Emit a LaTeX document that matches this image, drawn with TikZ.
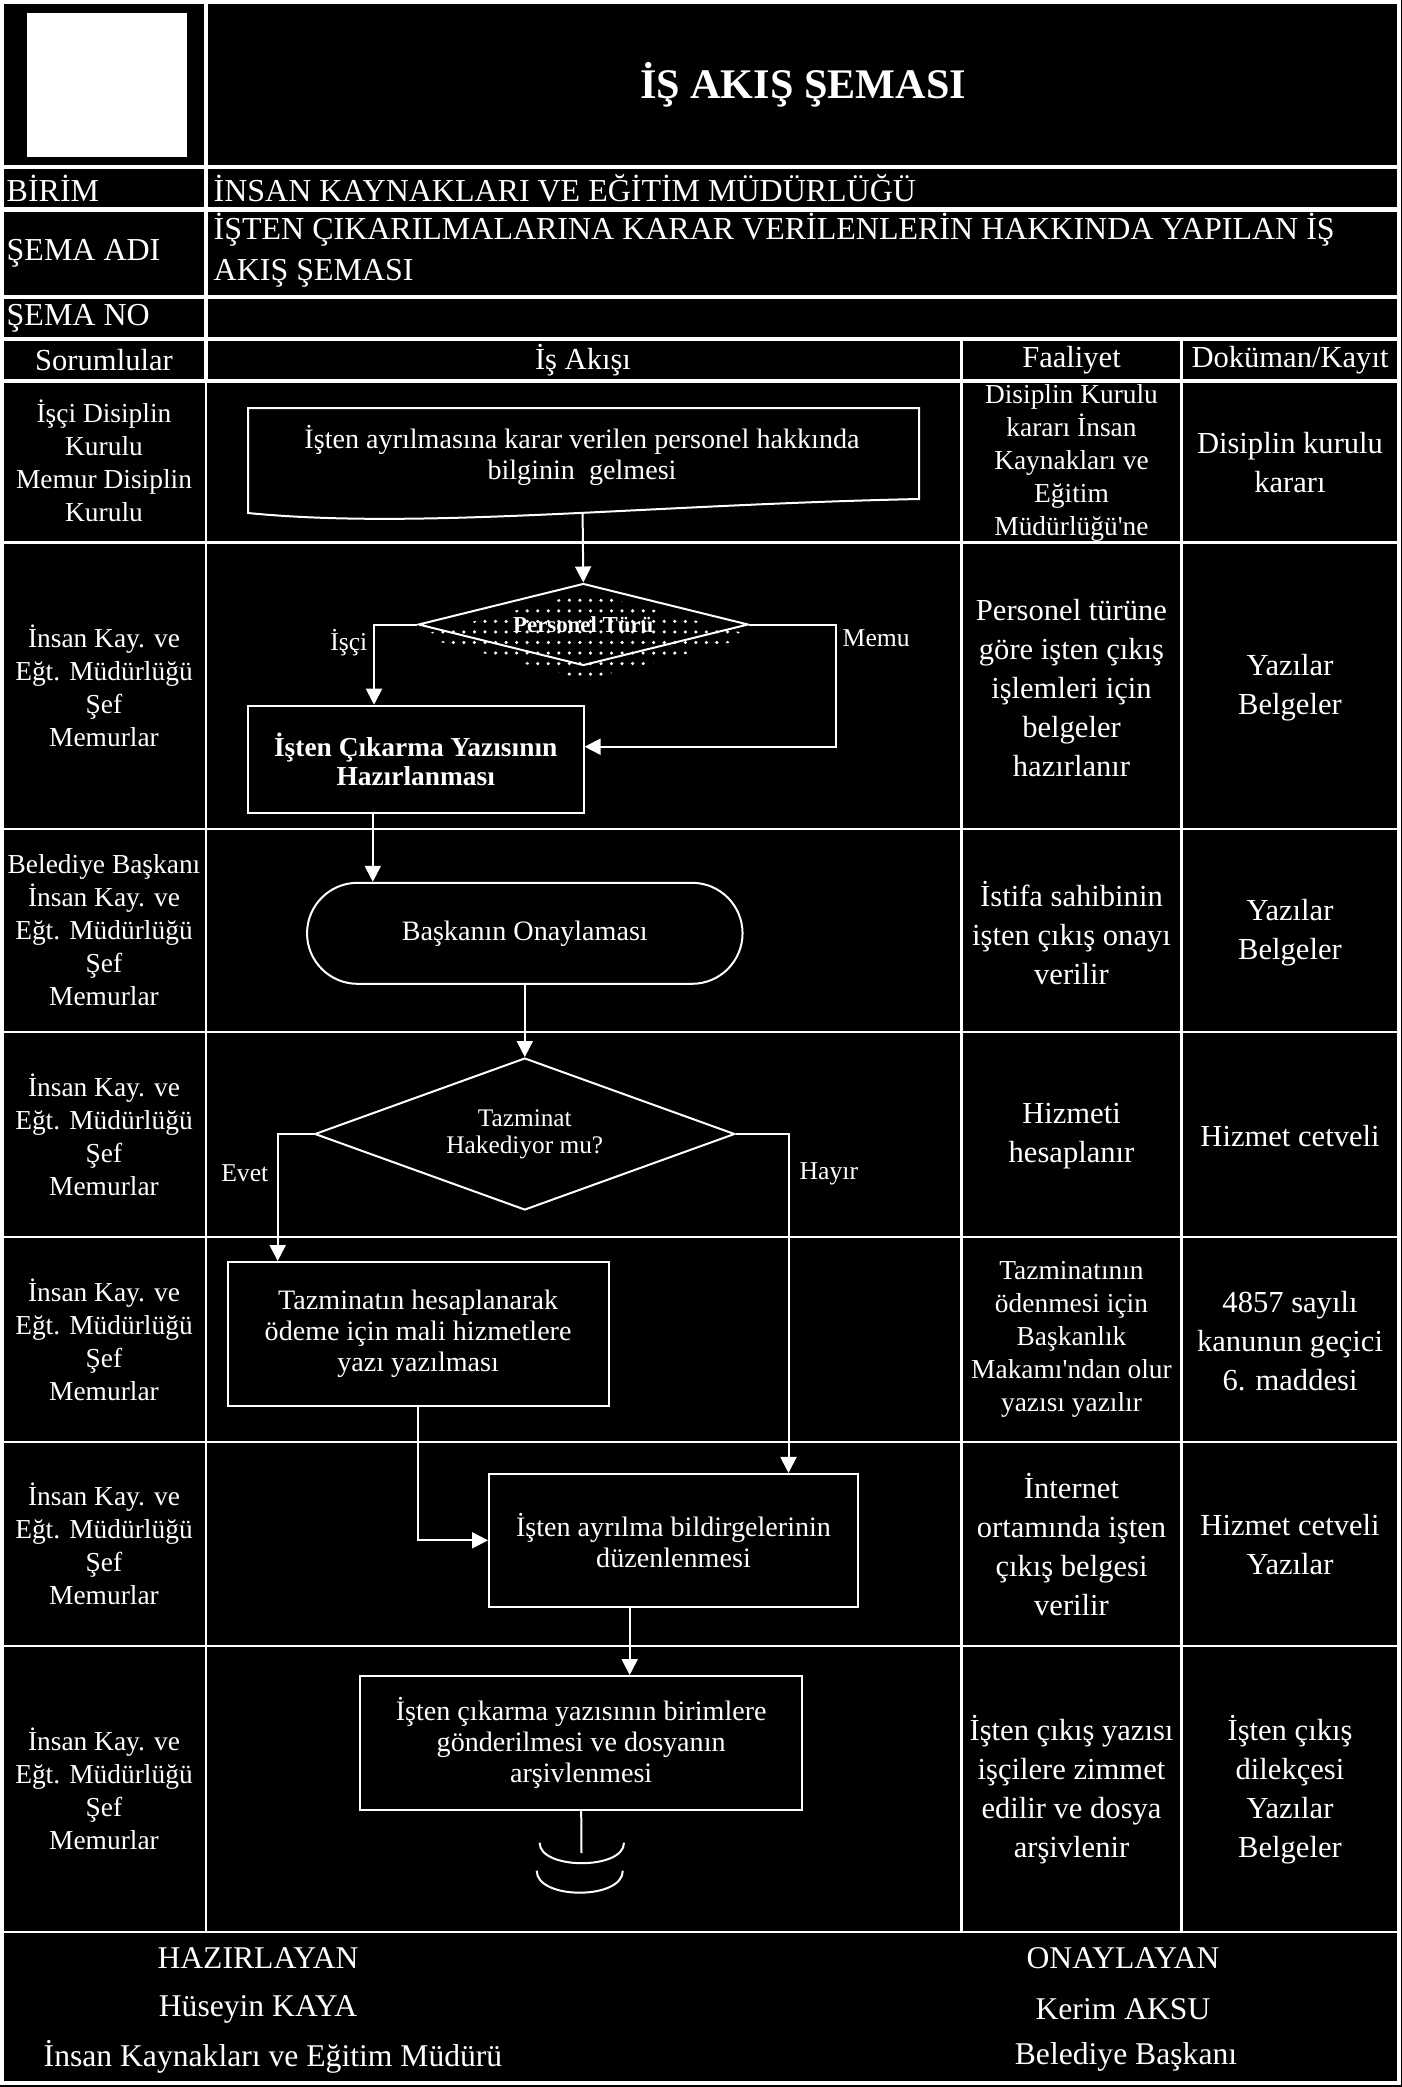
\documentclass[tikz,border=0pt]{standalone}
\usepackage{fontspec}
\setmainfont{Liberation Serif}
\usetikzlibrary{arrows.meta, calc, positioning, shapes.geometric, patterns}

\begin{document}
\begin{tikzpicture}[
	x=0.1mm, y=-0.1mm,
	every node/.style={text=white, inner sep=0pt},
	cell/.style={align=center, font=\fontsize{7.8}{9.4}\selectfont},
	hcell/.style={align=center, font=\fontsize{8.7}{9.4}\selectfont},
	cellw/.style={align=center, font=\fontsize{8.7}{11.1}\selectfont},
	hdr/.style={anchor=west, font=\fontsize{9.1}{11.7}\selectfont},
	alt/.style={font=\fontsize{9}{10}\selectfont},
	rowline/.style={draw=white, line width=0.45mm},
	laneline/.style={draw=white, line width=0.25mm},
	box/.style={draw=white, line width=0.2mm, rectangle, align=center, font=\fontsize{8}{8.8}\selectfont},
	karar/.style={draw=white, line width=0.2mm, diamond, align=center, font=\fontsize{7.2}{7.6}\selectfont},
	yon/.style={font=\fontsize{7.3}{8}\selectfont},
	conn/.style={draw=white, line width=0.2mm},
	arr/.style={conn, -{Triangle[width=1.6mm, length=1.6mm]}},
	]
	
	% zemin
	\fill[black] (0,0) rectangle (1402,2087);
	\useasboundingbox (0,0) rectangle (1402,2087);
	\draw[draw=white, line width=0.35mm] (2,2) rectangle (1399,2083);
	
	% baslik bolumu
	\draw[rowline] (206,2) -- (206,381);
	\foreach \y in {167, 209.5, 297, 339, 381}
		\draw[rowline] (2,\y) -- (1399,\y);
	\node[fill=white, minimum width=16mm, minimum height=14.4mm] (logo) at (107,85) {};
	\node[font=\fontsize{12}{14}\selectfont\bfseries] (baslik) at (803,85) {İŞ AKIŞ ŞEMASI};
	\node[hdr] (birim) at (6,188) {BİRİM};
	\node[hdr] (birimv) at (213,188) {İNSAN KAYNAKLARI VE EĞİTİM MÜDÜRLÜĞÜ};
	\node[hdr] (semaadi) at (6,253) {ŞEMA ADI};
	\node[hdr, align=left] (semaadiv) at (213,250) {İŞTEN ÇIKARILMALARINA KARAR VERİLENLERİN HAKKINDA YAPILAN İŞ\\AKIŞ ŞEMASI};
	\node[hdr] (semano) at (6,318) {ŞEMA NO};
	
	% sutun basliklari
	\node[hcell] (hsor) at (104,360) {Sorumlular};
	\node[hcell] (hakis) at (583,360) {İş Akışı};
	\node[hcell] (hfaal) at (1071.5,360) {Faaliyet};
	\node[hcell] (hdok) at (1290,360) {Doküman/Kayıt};
	
	% seritler
	\draw[laneline] (206,381) -- (206,1932);
	\draw[laneline] (961.5,339) -- (961.5,1932);
	\draw[laneline] (1181.5,339) -- (1181.5,1932);
	\foreach \y in {542.7, 829, 1032, 1237, 1442, 1646, 1932}
		\draw[laneline] (2,\y) -- (1399,\y);
	
	% sorumlular
	\node[cell] (s1) at (104,461) {İşçi Disiplin\\Kurulu\\Memur Disiplin\\Kurulu};
	\node[cell] (s2) at (104,686) {İnsan Kay. ve\\Eğt. Müdürlüğü\\Şef\\Memurlar};
	\node[cell] (s3) at (104,930) {Belediye Başkanı\\İnsan Kay. ve\\Eğt. Müdürlüğü\\Şef\\Memurlar};
	\node[cell] (s4) at (104,1134.5) {İnsan Kay. ve\\Eğt. Müdürlüğü\\Şef\\Memurlar};
	\node[cell] (s5) at (104,1339.5) {İnsan Kay. ve\\Eğt. Müdürlüğü\\Şef\\Memurlar};
	\node[cell] (s6) at (104,1544) {İnsan Kay. ve\\Eğt. Müdürlüğü\\Şef\\Memurlar};
	\node[cell] (s7) at (104,1789) {İnsan Kay. ve\\Eğt. Müdürlüğü\\Şef\\Memurlar};
	
	% faaliyet
	\node[cell] (f1) at (1071.5,463) {Disiplin Kurulu\\kararı İnsan\\Kaynakları ve\\Eğitim\\Müdürlüğü\textquotesingle ne};
	\node[cellw] (f2) at (1071.5,688) {Personel türüne\\göre işten çıkış\\işlemleri için\\belgeler\\hazırlanır};
	\node[cellw] (f3) at (1071.5,933) {İstifa sahibinin\\işten çıkış onayı\\verilir};
	\node[cellw] (f4) at (1071.5,1136) {Hizmeti\\hesaplanır};
	\node[cell] (f5) at (1071.5,1339) {Tazminatının\\ödenmesi için\\Başkanlık\\Makamı\textquotesingle ndan olur\\yazısı yazılır};
	\node[cellw] (f6) at (1071.5,1544.5) {İnternet\\ortamında işten\\çıkış belgesi\\verilir};
	\node[cellw] (f7) at (1071.5,1790) {İşten çıkış yazısı\\işçilere zimmet\\edilir ve dosya\\arşivlenir};
	
	% dokuman
	\node[cellw] (k1) at (1290,463) {Disiplin kurulu\\kararı};
	\node[cellw] (k2) at (1290,688) {Yazılar\\Belgeler};
	\node[cellw] (k3) at (1290,933) {Yazılar\\Belgeler};
	\node[cellw] (k4) at (1290,1136) {Hizmet cetveli};
	\node[cellw] (k5) at (1290,1341) {4857 sayılı\\kanunun geçici\\6. maddesi};
	\node[cellw] (k6) at (1290,1545) {Hizmet cetveli\\Yazılar};
	\node[cellw] (k7) at (1290,1790) {İşten çıkış\\dilekçesi\\Yazılar\\Belgeler};
	
	% is akisi
	\draw[conn] (248,408) -- (919,408) -- (919,499) .. controls (640,505) and (420,530) .. (248,513) -- cycle;
	\node[align=center, font=\fontsize{8}{8.8}\selectfont] (gelis) at (582,455) {İşten ayrılmasına karar verilen personel hakkında\\bilginin\ \ gelmesi};
	\coordinate (gelisalt) at (582.6,513.5);
	
	\node[diamond, aspect=4, pattern=dots, pattern color=white, minimum width=33.8mm, minimum height=8.8mm] (turgolge) at (586,636) {};
	\node[karar, aspect=4, minimum width=33mm, minimum height=8.2mm, font=\fontsize{6.5}{7}\selectfont\bfseries] (tur) at (583.3,624.5) {Personel Türü};
	\node[box, minimum width=33.57mm, minimum height=10.76mm, font=\fontsize{7.8}{8.3}\selectfont\bfseries] (hazirla) at (415.7,759.5) {İşten Çıkarma Yazısının\\Hazırlanması};
	\node[draw=white, line width=0.2mm, rounded corners=5.05mm, minimum width=43.55mm, minimum height=10.1mm, font=\fontsize{8}{9}\selectfont] (onay) at (524.8,933.3) {Başkanın Onaylaması};
	\node[karar, aspect=2.76, minimum width=42mm, minimum height=15.2mm] (tazminat) at (524.8,1134) {Tazminat\\Hakediyor mu?};
	\node[box, minimum width=38.08mm, minimum height=14.4mm] (hesap) at (418.1,1334) {Tazminatın hesaplanarak\\ödeme için mali hizmetlere\\yazı yazılması};
	\node[box, minimum width=36.9mm, minimum height=13.27mm] (bildirge) at (673.5,1540.3) {İşten ayrılma bildirgelerinin\\düzenlenmesi};
	\node[box, minimum width=44.25mm, minimum height=13.4mm] (gonder) at (581.2,1743) {İşten çıkarma yazısının birimlere\\gönderilmesi ve dosyanın\\arşivlenmesi};
	
	\coordinate (hazirlaust) at ([xshift=-4.17mm]hazirla.north);
	\coordinate (hazirlasag) at ([yshift=1.28mm]hazirla.east);
	\coordinate (hazirlaalt) at ([xshift=-4.29mm]hazirla.south);
	\coordinate (hesapust) at ([xshift=-14.04mm]hesap.north);
	\coordinate (bildirgeust) at ([xshift=11.5mm]bildirge.north);
	\coordinate (bildirgealt) at ([xshift=-4.38mm]bildirge.south);
	\coordinate (son) at (581.5,1853);
	
	\draw[arr] (gelisalt) -- (tur.north);
	\draw[arr] (tur.west) -| (hazirlaust);
	\draw[arr] (tur.east) -- ++(87,0) |- (hazirlasag);
	\draw[arr] (hazirlaalt) -- (hazirlaalt |- onay.north);
	\draw[arr] (onay.south) -- (tazminat.north);
	\draw[arr] (tazminat.west) -| (hesapust);
	\draw[arr] (tazminat.east) -| (bildirgeust);
	\draw[arr] (hesap.south) |- (bildirge.west);
	\draw[arr] (bildirgealt) -- (bildirgealt |- gonder.north);
	\draw[conn] (gonder.south) -- (son);
	\draw[conn] (539.6,1842.7) .. controls (539.6,1870) and (624,1870) .. (624,1842.7);
	\draw[conn] (536.7,1870.7) .. controls (536.7,1900) and (622.8,1900) .. (622.8,1870.7);
	
	\node[yon, anchor=east] (isci) at (368,643) {İşçi};
	\node[yon, anchor=west] (memur) at (842,638) {Memu};
	\node[yon, anchor=east] (evet) at (269,1173) {Evet};
	\node[yon, anchor=west] (hayir) at (799,1174) {Hayır};
	
	% imzalar
	\node[alt] (hazir1) at (258,1958) {HAZIRLAYAN};
	\node[alt] (hazir2) at (258,2009) {Hüseyin KAYA};
	\node[alt] (hazir3) at (273,2057) {İnsan Kaynakları ve Eğitim Müdürü};
	\node[alt] (onay1) at (1123,1958) {ONAYLAYAN};
	\node[alt] (onay2) at (1123,2009) {Kerim AKSU};
	\node[alt] (onay3) at (1126,2057) {Belediye Başkanı};
	
\end{tikzpicture}
\end{document}
